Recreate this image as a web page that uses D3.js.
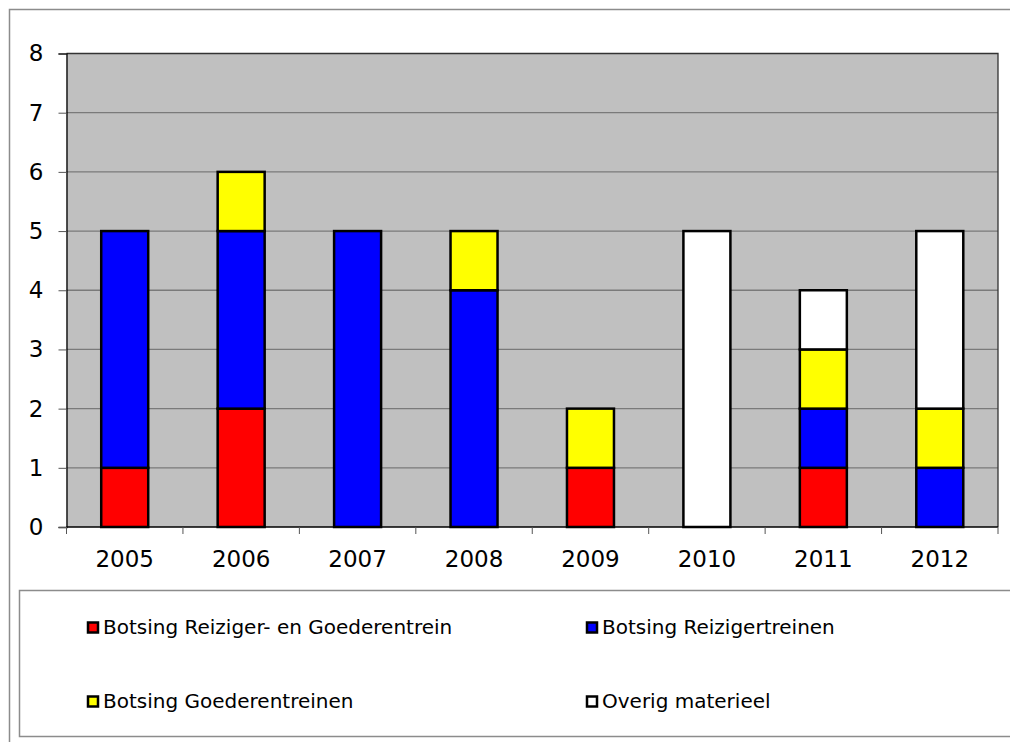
<!DOCTYPE html>
<html>
<head>
<meta charset="utf-8">
<script src="https://cdn.jsdelivr.net/npm/d3@7"></script>
<style>
  body { margin: 0; background: #fff; }
  svg { display: block; font-family: "DejaVu Sans", Verdana, sans-serif; }
</style>
</head>
<body>
<script>
// data
var years = ['2005', '2006', '2007', '2008', '2009', '2010', '2011', '2012'];
var seriesNames = ['Botsing Reiziger- en Goederentrein', 'Botsing Reizigertreinen',
                   'Botsing Goederentreinen', 'Overig materieel'];
var seriesColors = ['#ff0000', '#0000ff', '#ffff00', '#ffffff'];
var reizigerGoederen = [1, 2, 0, 0, 1, 0, 1, 0];
var reizigers = [4, 3, 5, 4, 0, 0, 1, 1];
var goederen = [0, 1, 0, 1, 1, 0, 1, 1];
var overig = [0, 0, 0, 0, 0, 5, 1, 3];
var yTicks = [0, 1, 2, 3, 4, 5, 6, 7, 8];

var W = 1010, H = 742;
var plot = {left: 66.5, top: 53.5, right: 998, bottom: 527};

var svg = d3.select('body').append('svg')
            .attr('width', W)
            .attr('height', H);

// outer chart border
svg.append('rect')
   .attr('x', 9.5).attr('y', 9.5)
   .attr('width', W + 10).attr('height', H + 10)
   .attr('fill', 'none')
   .attr('stroke', '#8c8c8c')
   .attr('stroke-width', 1.5);

var xScale = d3.scaleBand().domain(years).range([plot.left, plot.right]).paddingInner(0);
var yScale = d3.scaleLinear().domain([0, 8]).range([plot.bottom, plot.top]);

// plot background
svg.append('rect')
   .attr('x', plot.left).attr('y', plot.top)
   .attr('width', plot.right - plot.left)
   .attr('height', plot.bottom - plot.top)
   .attr('fill', '#c0c0c0');

// gridlines
svg.append('g')
   .selectAll('line')
   .data(yTicks.filter(function(d) { return d > 0 && d < 8; }))
   .enter().append('line')
   .attr('x1', plot.left).attr('x2', plot.right)
   .attr('y1', function(d) { return yScale(d); })
   .attr('y2', function(d) { return yScale(d); })
   .attr('stroke', '#7a7a7a')
   .attr('stroke-width', 1.3);

// plot border (top/right)
svg.append('path')
   .attr('d', 'M' + plot.left + ',' + plot.top + 'H' + plot.right + 'V' + plot.bottom)
   .attr('fill', 'none')
   .attr('stroke', '#333')
   .attr('stroke-width', 1.3);

// stacks
var table = years.map(function(y, i) {
  return {year: y, s0: reizigerGoederen[i], s1: reizigers[i], s2: goederen[i], s3: overig[i]};
});
var stack = d3.stack().keys(['s0', 's1', 's2', 's3']);
var stacked = stack(table);

var barW = 47;
stacked.forEach(function(layer, k) {
  svg.append('g')
     .selectAll('rect')
     .data(layer.filter(function(d) { return d[1] - d[0] > 0; }))
     .enter().append('rect')
     .attr('x', function(d) { return xScale(d.data.year) + xScale.bandwidth() / 2 - barW / 2; })
     .attr('y', function(d) { return yScale(d[1]); })
     .attr('width', barW)
     .attr('height', function(d) { return yScale(d[0]) - yScale(d[1]); })
     .attr('fill', seriesColors[k])
     .attr('stroke', '#000')
     .attr('stroke-width', 2.5);
});

// y axis
var yAxis = d3.axisLeft(yScale).tickValues(yTicks).tickSize(8).tickPadding(15).tickFormat(d3.format('d'));
var gY = svg.append('g')
            .attr('transform', 'translate(' + plot.left + ',0)')
            .call(yAxis);
gY.select('.domain').attr('stroke', '#000').attr('stroke-width', 1.3);
gY.selectAll('.tick line').attr('stroke', '#555');
gY.selectAll('text').attr('font-size', 23).attr('fill', '#000')
  .attr('font-family', '"DejaVu Sans", Verdana, sans-serif');

// x axis
var gX = svg.append('g')
            .attr('transform', 'translate(0,' + plot.bottom + ')');
gX.append('line')
  .attr('x1', plot.left).attr('x2', plot.right)
  .attr('stroke', '#000').attr('stroke-width', 1.3);
gX.selectAll('.xtick')
  .data(years.concat(['end']))
  .enter().append('line')
  .attr('x1', function(d, i) { return plot.left + i * xScale.bandwidth(); })
  .attr('x2', function(d, i) { return plot.left + i * xScale.bandwidth(); })
  .attr('y1', 0).attr('y2', 7)
  .attr('stroke', '#555');
gX.selectAll('text')
  .data(years)
  .enter().append('text')
  .attr('x', function(d) { return xScale(d) + xScale.bandwidth() / 2; })
  .attr('y', 40)
  .attr('text-anchor', 'middle')
  .attr('font-size', 23)
  .text(function(d) { return d; });

// legend
svg.append('rect')
   .attr('x', 19.5).attr('y', 590.5)
   .attr('width', W).attr('height', 146)
   .attr('fill', '#fff')
   .attr('stroke', '#8c8c8c')
   .attr('stroke-width', 1.5);

var legendPos = [[88, 627.5], [587, 627.5], [88, 701.5], [587, 701.5]];
var legend = svg.append('g')
                .selectAll('g')
                .data(seriesNames)
                .enter().append('g')
                .attr('transform', function(d, i) { return 'translate(' + legendPos[i][0] + ',' + legendPos[i][1] + ')'; });
legend.append('rect')
      .attr('x', 0).attr('y', -5)
      .attr('width', 10).attr('height', 10)
      .attr('fill', function(d, i) { return seriesColors[i]; })
      .attr('stroke', '#000')
      .attr('stroke-width', 2.5);
legend.append('text')
      .attr('x', 15).attr('y', 6.5)
      .attr('font-size', 20)
      .text(function(d) { return d; });
</script>
</body>
</html>
